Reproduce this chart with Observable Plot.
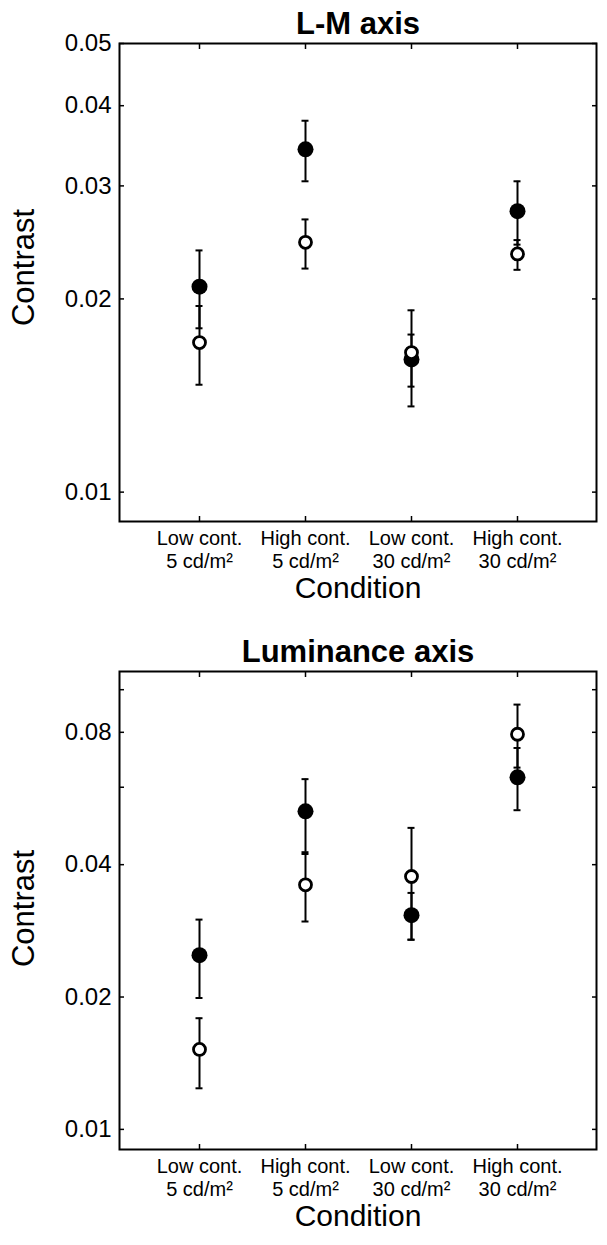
<!DOCTYPE html>
<html><head><meta charset="utf-8">
<script src="https://cdn.jsdelivr.net/npm/d3@7"></script>
<script src="https://cdn.jsdelivr.net/npm/@observablehq/plot@0.6"></script>
<style>body{margin:0;background:#fff;} #chart svg{display:block;}</style>
</head><body><div id="chart"></div>
<script>
const conditions = ["Low cont.\n5 cd/m²", "High cont.\n5 cd/m²", "Low cont.\n30 cd/m²", "High cont.\n30 cd/m²"];

// L-M axis panel
const lmFilled   = [0.0209, 0.0342, 0.0161, 0.0274];
const lmFilledLo = [0.0180, 0.0305, 0.0146, 0.0243];
const lmFilledHi = [0.0238, 0.0379, 0.0176, 0.0305];
const lmOpen     = [0.0171, 0.0245, 0.0165, 0.0235];
const lmOpenLo   = [0.0147, 0.0223, 0.0136, 0.0222];
const lmOpenHi   = [0.0195, 0.0266, 0.0192, 0.0247];
const lmTicks = [0.01, 0.02, 0.03, 0.04, 0.05];
const lmTickLabels = [0.01, 0.02, 0.03, 0.04, 0.05];

// Luminance axis panel
const lumFilled   = [0.0249, 0.0529, 0.0307, 0.0632];
const lumFilledLo = [0.0199, 0.0427, 0.0270, 0.0532];
const lumFilledHi = [0.0300, 0.0626, 0.0345, 0.0737];
const lumOpen     = [0.0152, 0.0360, 0.0376, 0.0792];
const lumOpenLo   = [0.0124, 0.0297, 0.0270, 0.0665];
const lumOpenHi   = [0.0179, 0.0423, 0.0485, 0.0925];
const lumTicks = [0.01, 0.02, 0.04, 0.06, 0.08, 0.1];
const lumTickLabels = [0.01, 0.02, 0.04, 0.08];

const noText = () => "";

function panel({title, filled, filledLo, filledHi, open, openLo, openHi, domain, ticks, tickLabels, height, marginTop, marginBottom, labelDy}) {
  const rows = conditions.map((c, i) => ({cond: c, filled: filled[i], fLo: filledLo[i], fHi: filledHi[i], open: open[i], oLo: openLo[i], oHi: openHi[i]}));
  return Plot.plot({
    width: 607, height, marginTop, marginBottom, marginLeft: 119, marginRight: 11,
    style: {fontFamily: "'Liberation Sans', Arial, sans-serif", background: "white", color: "black", overflow: "visible"},
    x: {type: "band", domain: conditions, paddingInner: 0, paddingOuter: 0.25},
    y: {type: "log", domain},
    marks: [
      Plot.axisY(ticks, {anchor: "left", tickSize: -5, tickFormat: noText, label: null, strokeWidth: 1.5}),
      Plot.axisY(ticks, {anchor: "right", tickSize: -5, tickFormat: noText, label: null, strokeWidth: 1.5}),
      Plot.axisY(tickLabels, {anchor: "left", tickSize: 0, tickPadding: 8, tickFormat: d => d.toFixed(2), label: null, fontSize: 24}),
      Plot.axisX({anchor: "bottom", tickSize: -5, tickFormat: noText, label: null, strokeWidth: 1.5}),
      Plot.axisX({anchor: "top", tickSize: -5, tickFormat: noText, label: null, strokeWidth: 1.5}),
      Plot.axisX({anchor: "bottom", tickSize: 0, tickPadding: 7, label: null, fontSize: 20, lineHeight: 1.15}),
      Plot.frame({strokeWidth: 2}),
      // error bars
      Plot.ruleX(rows, {x: "cond", y1: "fLo", y2: "fHi", strokeWidth: 2}),
      Plot.ruleX(rows, {x: "cond", y1: "oLo", y2: "oHi", strokeWidth: 2}),
      Plot.tickY(rows, {x: "cond", y: "fLo", insetLeft: 49.5, insetRight: 49.5, strokeWidth: 2}),
      Plot.tickY(rows, {x: "cond", y: "fHi", insetLeft: 49.5, insetRight: 49.5, strokeWidth: 2}),
      Plot.tickY(rows, {x: "cond", y: "oLo", insetLeft: 49.5, insetRight: 49.5, strokeWidth: 2}),
      Plot.tickY(rows, {x: "cond", y: "oHi", insetLeft: 49.5, insetRight: 49.5, strokeWidth: 2}),
      // points
      Plot.dot(rows, {x: "cond", y: "filled", r: 8, fill: "black", stroke: "none"}),
      Plot.dot(rows, {x: "cond", y: "open", r: 6, fill: "white", stroke: "black", strokeWidth: 2.8}),
      // titles / labels
      Plot.text([title], {text: d => d, frameAnchor: "top", dy: -19, fontSize: 31, fontWeight: "bold", lineAnchor: "middle"}),
      Plot.text(["Contrast"], {text: d => d, frameAnchor: "left", dx: -95, dy: labelDy, rotate: -90, fontSize: 31, lineAnchor: "middle", textAnchor: "middle"}),
      Plot.text(["Condition"], {text: d => d, frameAnchor: "bottom", dy: 67, fontSize: 30, lineAnchor: "middle"})
    ]
  });
}

const chart = document.getElementById("chart");
chart.append(panel({title: "L-M axis", filled: lmFilled, filledLo: lmFilledLo, filledHi: lmFilledHi, open: lmOpen, openLo: lmOpenLo, openHi: lmOpenHi,
  domain: [0.009, 0.05], ticks: lmTicks, tickLabels: lmTickLabels, height: 620, marginTop: 43, marginBottom: 99, labelDy: -15}));
chart.append(panel({title: "Luminance axis", filled: lumFilled, filledLo: lumFilledLo, filledHi: lumFilledHi, open: lumOpen, openLo: lumOpenLo, openHi: lumOpenHi,
  domain: [0.009, 0.11], ticks: lumTicks, tickLabels: lumTickLabels, height: 625, marginTop: 51, marginBottom: 96, labelDy: -2}));
</script>
</body></html>
